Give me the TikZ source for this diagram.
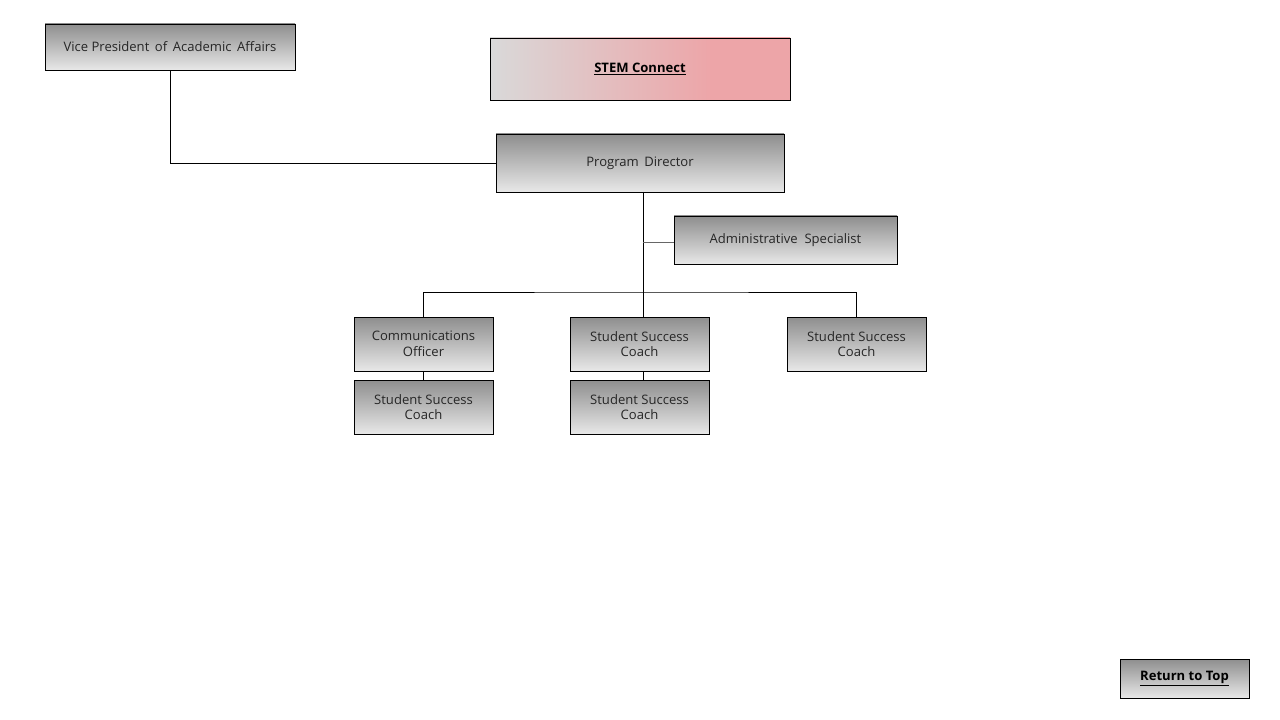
\documentclass[tikz,border=0pt]{standalone}
\usepackage{fontspec}
\setmainfont{Open Sans}
\definecolor{txt}{HTML}{262626}
\definecolor{gtop}{HTML}{8E8E8E}
\definecolor{gbot}{HTML}{E8E8E8}
\definecolor{stemgray}{HTML}{D9D9D9}
\definecolor{stempink}{HTML}{EDA5A8}
\pgfdeclarehorizontalshading{stemshade}{100bp}{color(0bp)=(stemgray); color(25bp)=(stemgray); color(62bp)=(stempink); color(100bp)=(stempink)}
\tikzset{
  orgbox/.style={draw=black, line width=0.6pt, top color=gtop, bottom color=gbot, text=txt, font=\fontsize{9.8}{11.6}\selectfont, align=center, inner sep=0pt},
  conn/.style={draw=black, line width=0.6pt},
}
\begin{document}
\begin{tikzpicture}[x=0.75pt,y=-0.75pt]
\useasboundingbox (0,0) rectangle (1280,720);
\fill[white] (0,0) rectangle (1280,720);
% boxes
\node[orgbox, minimum width=250*0.75pt, minimum height=46*0.75pt] (vp) at (170,47) {\raisebox{-0.8pt}{Vice President\, of\, Academic\, Affairs}};
\node[draw=black, line width=0.6pt, shading=stemshade, text=black, font=\fontsize{9.8}{11.6}\selectfont\bfseries, minimum width=300*0.75pt, minimum height=62*0.75pt, inner sep=0pt] (stem) at (640,69) {\raisebox{-1pt}{\underline{STEM Connect}}};
\node[orgbox, minimum width=288*0.75pt, minimum height=58*0.75pt] (pd) at (640,163) {\raisebox{-1pt}{Program\, Director}};
\node[orgbox, minimum width=223*0.75pt, minimum height=48*0.75pt] (adm) at (785.5,240) {\raisebox{-1pt}{Administrative \ Specialist}};
\node[orgbox, minimum width=139*0.75pt, minimum height=54*0.75pt] (comm) at (423.5,344) {Communications\\Officer};
\node[orgbox, minimum width=139*0.75pt, minimum height=54*0.75pt] (ssc1) at (639.5,344) {Student Success\\Coach};
\node[orgbox, minimum width=139*0.75pt, minimum height=54*0.75pt] (ssc2) at (856.5,344) {Student Success\\Coach};
\node[orgbox, minimum width=139*0.75pt, minimum height=54*0.75pt] (ssc3) at (423.5,407) {Student Success\\Coach};
\node[orgbox, minimum width=139*0.75pt, minimum height=54*0.75pt] (ssc4) at (639.5,407) {Student Success\\Coach};
\node[orgbox, text=black, font=\fontsize{9.8}{11.6}\selectfont\bfseries, minimum width=129*0.75pt, minimum height=39*0.75pt] (ret) at (1184.5,678.5) {\raisebox{-2pt}{\underline{Return to Top}}};
% coordinates
\coordinate (pdb) at (643,192);
\coordinate (bus) at (643,292);
\coordinate (admj) at (643,242);
% connectors
\draw[conn] (vp.south) |- (pd.west);
\draw[conn] (pdb) -- (bus);
\draw[conn, draw=black!60] (admj) -- (admj -| adm.west);
\draw[conn] (comm.north) |- (bus) -| (ssc2.north);
\draw[conn] (bus) -- (643,317);
\draw[conn] (comm.south) -- (ssc3.north);
\draw[conn] (643,371) -- (643,380);
\end{tikzpicture}
\end{document}
